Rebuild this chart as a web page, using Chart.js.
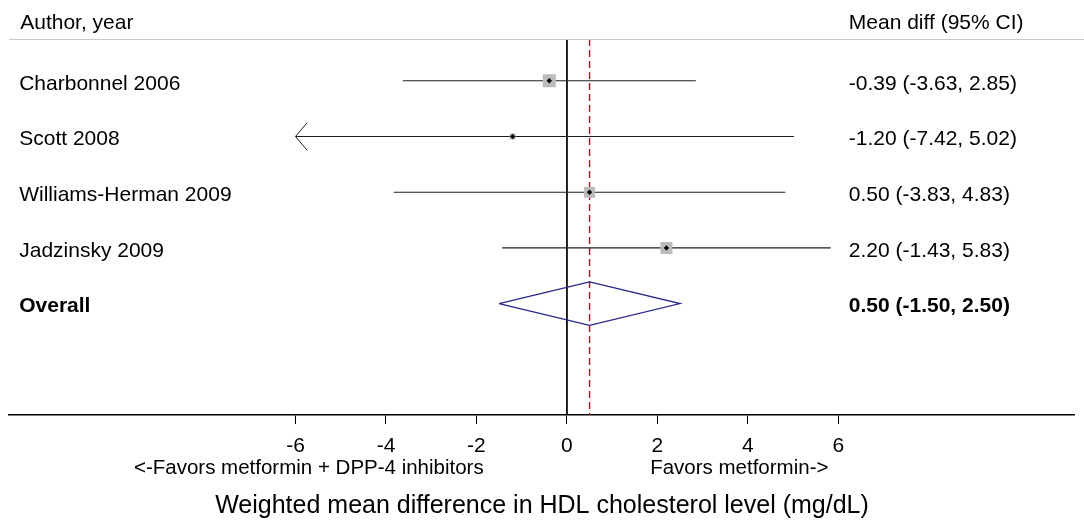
<!DOCTYPE html>
<html>
<head>
<meta charset="utf-8">
<script src="https://cdn.jsdelivr.net/npm/chart.js@4"></script>
<style>
  html, body { margin: 0; padding: 0; background: #fff; }
  #wrap { width: 1084px; height: 521px; }
</style>
</head>
<body>
<div id="wrap"><canvas id="c" width="1084" height="521"></canvas></div>
<script>
// ---- data ----
const studies = ['Charbonnel 2006', 'Scott 2008', 'Williams-Herman 2009', 'Jadzinsky 2009'];
const meanDiff = [-0.39, -1.20, 0.50, 2.20];
const lowerCI = [-3.63, -7.42, -3.83, -1.43];
const upperCI = [2.85, 5.02, 4.83, 5.83];
const weights = [36.0, 7.7, 25.7, 30.6];   // estimated relative weights (%)
const overallLabel = 'Overall';
const overallMean = 0.50;
const overallLower = -1.50;
const overallUpper = 2.50;
const xTicks = [-6, -4, -2, 0, 2, 4, 6];
const headerLeft = 'Author, year';
const headerRight = 'Mean diff (95% CI)';
const favorsLeft = '<-Favors metformin + DPP-4 inhibitors';
const favorsRight = 'Favors metformin->';
const xTitle = 'Weighted mean difference in HDL cholesterol level (mg/dL)';

// ---- layout helpers ----
const FONT = "'Liberation Sans', Arial, Helvetica, sans-serif";
const yTop = 0.25, yBottom = 7;
const clipMin = xTicks[0];
const fmt = v => v.toFixed(2);
const rowOf = i => i + 1;
const overallRow = studies.length + 1;

const datasets = [];

// reference line at 0
datasets.push({
  type: 'line', data: [{x: 0, y: yTop}, {x: 0, y: yBottom}],
  borderColor: '#000', borderWidth: 1, pointRadius: 0, order: 5
});
// overall estimate dashed line
datasets.push({
  type: 'line', data: [{x: overallMean, y: yTop}, {x: overallMean, y: yBottom}],
  borderColor: '#a8141c', borderWidth: 1.4, borderDash: [7, 4], pointRadius: 0, order: 4
});
// CI lines and arrows
studies.forEach((s, i) => {
  const lo = Math.max(lowerCI[i], clipMin);
  datasets.push({
    type: 'line', data: [{x: lo, y: rowOf(i)}, {x: upperCI[i], y: rowOf(i)}],
    borderColor: '#1e1e1e', borderWidth: 1.1, pointRadius: 0, order: 3
  });
  if (lowerCI[i] < clipMin) {
    datasets.push({
      type: 'line',
      data: [{x: clipMin + 0.26, y: rowOf(i) - 0.25}, {x: clipMin, y: rowOf(i)}, {x: clipMin + 0.26, y: rowOf(i) + 0.25}],
      borderColor: '#1e1e1e', borderWidth: 1, pointRadius: 0, order: 3, tension: 0
    });
  }
});
// weight squares
const maxW = Math.max(...weights);
datasets.push({
  type: 'scatter',
  data: meanDiff.map((m, i) => ({x: m, y: rowOf(i)})),
  pointStyle: 'rect',
  pointRadius: weights.map(w => 9.2 * Math.sqrt(w / maxW)),
  pointHoverRadius: weights.map(w => 9.2 * Math.sqrt(w / maxW)),
  backgroundColor: '#bbbbbb', borderWidth: 0, order: 2
});
// point estimates
datasets.push({
  type: 'scatter',
  data: meanDiff.map((m, i) => ({x: m, y: rowOf(i)})),
  pointStyle: 'rectRot', pointRadius: 2.7, backgroundColor: '#000', borderColor: '#000', borderWidth: 0, order: 1
});
// overall diamond
const dh = 0.39;
datasets.push({
  type: 'line',
  data: [
    {x: overallLower, y: overallRow}, {x: overallMean, y: overallRow - dh},
    {x: overallUpper, y: overallRow}, {x: overallMean, y: overallRow + dh},
    {x: overallLower, y: overallRow}
  ],
  borderColor: '#27278a', borderWidth: 1.3, pointRadius: 0, fill: false, order: 2, tension: 0
});

const textPlugin = {
  id: 'forestText',
  afterDatasetsDraw(chart) {
    const {ctx, chartArea, scales} = chart;
    const ys = scales.y, xs = scales.x;
    ctx.save();
    // header rule
    ctx.strokeStyle = '#c8c8c8';
    ctx.lineWidth = 1;
    ctx.beginPath();
    ctx.moveTo(chartArea.left, Math.round(chartArea.top) + 0.5);
    ctx.lineTo(chart.width, Math.round(chartArea.top) + 0.5);
    ctx.stroke();

    const leftX = chartArea.left + 10;
    const rightX = chartArea.right - 226;
    ctx.fillStyle = '#000';
    ctx.textBaseline = 'middle';
    ctx.textAlign = 'left';
    ctx.font = '21px ' + FONT;
    ctx.fillText(headerLeft, leftX + 1, 23);
    ctx.fillText(headerRight, rightX, 23);

    studies.forEach((s, i) => {
      const y = ys.getPixelForValue(rowOf(i)) + 3;
      ctx.fillText(s, leftX, y);
      ctx.fillText(fmt(meanDiff[i]) + ' (' + fmt(lowerCI[i]) + ', ' + fmt(upperCI[i]) + ')', rightX, y);
    });
    ctx.font = 'bold 21px ' + FONT;
    const yo = ys.getPixelForValue(overallRow) + 3;
    ctx.fillText(overallLabel, leftX, yo);
    ctx.fillText(fmt(overallMean) + ' (' + fmt(overallLower) + ', ' + fmt(overallUpper) + ')', rightX, yo);

    // favours labels
    ctx.font = '20.5px ' + FONT;
    ctx.textAlign = 'right';
    ctx.fillText(favorsLeft, xs.getPixelForValue(-1.84), 468);
    ctx.textAlign = 'left';
    ctx.fillText(favorsRight, xs.getPixelForValue(1.84), 468);
    ctx.restore();
  }
};

new Chart(document.getElementById('c'), {
  type: 'scatter',
  data: { datasets },
  options: {
    responsive: false,
    devicePixelRatio: 1,
    animation: false,
    events: [],
    layout: { padding: { left: 8, right: 8, top: 39, bottom: 0 } },
    plugins: { legend: { display: false }, tooltip: { enabled: false }, title: { display: false } },
    scales: {
      x: {
        type: 'linear',
        min: -12.33, max: 11.228,
        afterBuildTicks: (scale) => { scale.ticks = xTicks.map(v => ({value: v})); },
        afterFit: (scale) => { scale.height = 106; },
        ticks: {
          autoSkip: false, maxRotation: 0, color: '#000', padding: 10,
          font: { family: FONT, size: 21 },
          callback: (v) => String(v)
        },
        grid: { drawOnChartArea: false, drawTicks: true, tickLength: 9, color: '#000', lineWidth: 1 },
        border: { display: true, color: '#000', width: 1.5 },
        title: { display: true, text: xTitle, color: '#000', font: { family: FONT, size: 25 }, padding: { top: 0, bottom: 0 } }
      },
      y: {
        type: 'linear', display: false, min: yTop, max: yBottom, reverse: true
      }
    }
  },
  plugins: [textPlugin]
});
</script>
</body>
</html>
